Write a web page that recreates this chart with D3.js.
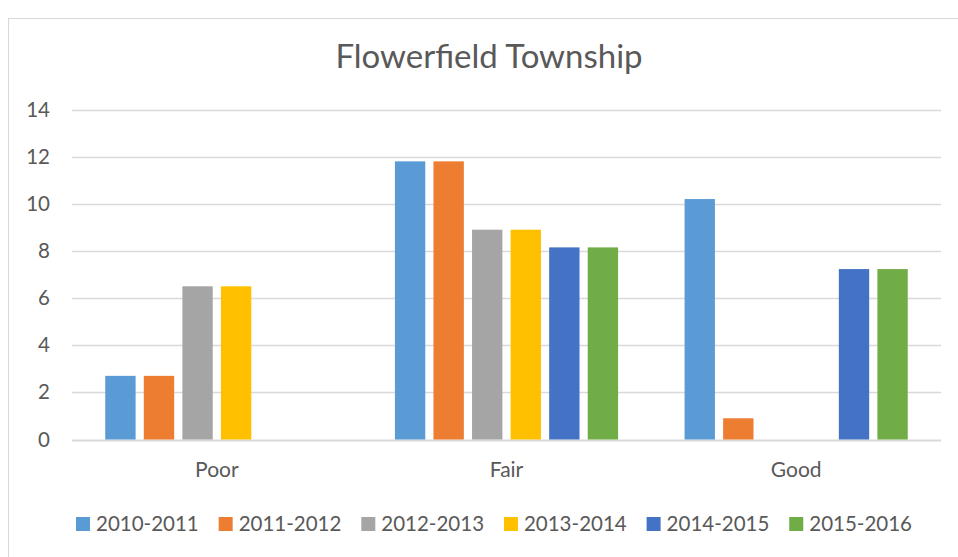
<!DOCTYPE html>
<html><head><meta charset="utf-8">
<script src="https://cdn.jsdelivr.net/npm/d3@7"></script>
<style>body{margin:0;background:#fff}svg{display:block}</style>
</head><body>
<svg id="c" width="958" height="557"></svg>
<script>
const categories = ["Poor", "Fair", "Good"];
const seriesNames = ["2010-2011", "2011-2012", "2012-2013", "2013-2014", "2014-2015", "2015-2016"];
const s2010 = [2.7, 11.8, 10.2];
const s2011 = [2.7, 11.8, 0.9];
const s2012 = [6.5, 8.9, 0];
const s2013 = [6.5, 8.9, 0];
const s2014 = [0, 8.15, 7.23];
const s2015 = [0, 8.15, 7.23];
const yTicks = [0, 2, 4, 6, 8, 10, 12, 14];
const title = "Flowerfield Township";

const seriesValues = [s2010, s2011, s2012, s2013, s2014, s2015];
const colors = ["#5B9BD5", "#ED7D31", "#A5A5A5", "#FFC000", "#4472C4", "#70AD47"];
const font = "Lato, 'Open Sans', sans-serif";
const textColor = "#595959";

const svg = d3.select("#c");
svg.append("rect").attr("x", 8.5).attr("y", 18.5).attr("width", 960).attr("height", 560)
  .attr("fill", "#fff").attr("stroke", "#d9d9d9").attr("stroke-width", 1);

const pLeft = 72, pRight = 941, pTop = 109.5, pBottom = 439.5;
const y = d3.scaleLinear().domain([0, 14]).range([pBottom, pTop]);
const x0 = d3.scaleBand().domain(categories).range([pLeft, pRight]).paddingInner(0).paddingOuter(0);
const band = x0.bandwidth();
const w = band / (6 + 5 * 0.27 + 2.19);
const gap = w * 0.27;
const startOff = w * 2.19 / 2;

// gridlines
const grid = svg.append("g");
grid.selectAll("line").data(yTicks).join("line")
  .attr("x1", pLeft).attr("x2", pRight)
  .attr("y1", d => Math.round(y(d)) + 0.5).attr("y2", d => Math.round(y(d)) + 0.5)
  .attr("stroke", "#d9d9d9").attr("stroke-width", d => d === 0 ? 1.8 : 1.4);

// y axis labels
const yAxis = d3.axisLeft(y).tickValues(yTicks).tickSize(0).tickPadding(22);
const ya = svg.append("g").attr("transform", `translate(${pLeft},0)`).call(yAxis);
ya.select(".domain").remove();
ya.selectAll("text").attr("font-family", font).attr("font-size", 20.5).attr("fill", textColor);

// x axis labels
const xAxis = d3.axisBottom(x0).tickSize(0).tickPadding(23);
const xa = svg.append("g").attr("transform", `translate(0,${pBottom})`).call(xAxis);
xa.select(".domain").remove();
xa.selectAll("text").attr("font-family", font).attr("font-size", 21).attr("fill", textColor);

// bars
seriesValues.forEach((vals, si) => {
  svg.append("g").selectAll("rect").data(vals).join("rect")
    .attr("x", (d, i) => x0(categories[i]) + startOff + si * (w + gap))
    .attr("width", w)
    .attr("y", d => y(d))
    .attr("height", d => y(0) - y(d))
    .attr("fill", colors[si]);
});

// title
svg.append("text").attr("x", 489).attr("y", 68).attr("text-anchor", "middle")
  .attr("font-family", font).attr("font-size", 33).attr("fill", textColor).text(title);

// legend
const lg = svg.append("g");
const items = lg.selectAll("g").data(seriesNames).join("g");
items.append("rect").attr("width", 14).attr("height", 14).attr("y", -14)
  .attr("fill", (d, i) => colors[i]);
items.append("text").attr("x", 20).attr("y", 0).attr("font-family", font)
  .attr("font-size", 20.5).attr("fill", textColor).text(d => d);
let widths = [];
items.each(function () { widths.push(20 + d3.select(this).select("text").node().getComputedTextLength()); });
const startX = 76, endX = 912;
const spacing = (endX - startX - d3.sum(widths)) / (widths.length - 1);
let cx = startX;
items.attr("transform", (d, i) => { const t = `translate(${cx},531)`; cx += widths[i] + spacing; return t; });
</script>
</body></html>
